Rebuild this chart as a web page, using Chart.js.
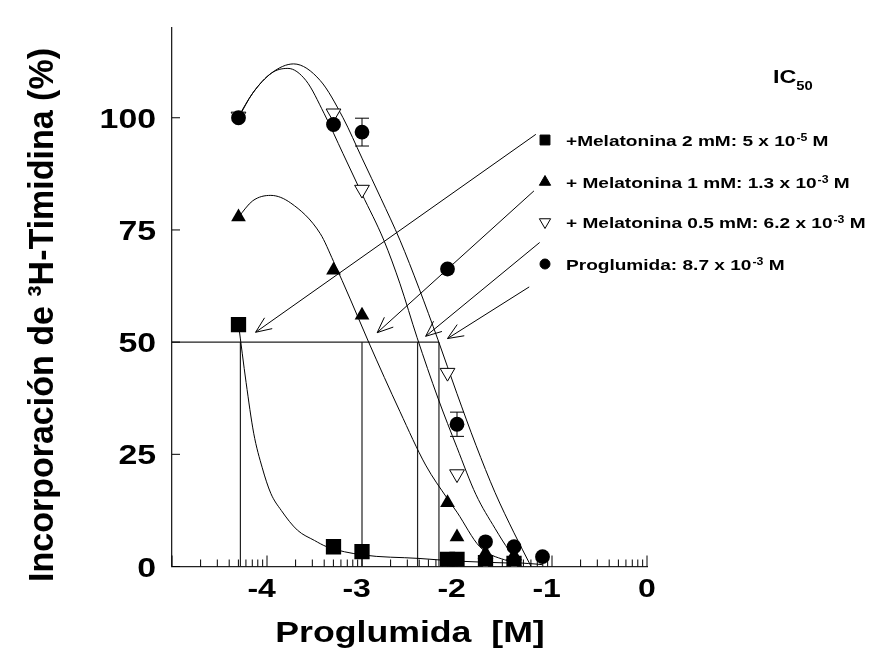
<!DOCTYPE html>
<html>
<head>
<meta charset="utf-8">
<script src="https://cdn.jsdelivr.net/npm/chart.js@4.4.0/dist/chart.umd.min.js"></script>
<style>
  html, body { margin: 0; padding: 0; background: #fff; }
  canvas { display: block; }
</style>
</head>
<body>
<canvas id="grafico" width="874" height="651"></canvas>
<script>
// dosis de proglumida (log M) y % de incorporacion
const logDosis = [-4.3, -3.3, -3.0, -2.1, -2.0, -1.7, -1.4, -1.1];
const proglumida = [100, 98.5, 96.8, 66.3, 31.7, 5.5, 4.4, 2.2];
const proglumidaErr = [0, 0, 3.1, 0, 2.7, 0, 0, 0];
const melatonina05 = [100.3, 101.0, 84.0, 43.2, 20.6, 0.8, 0.6, null];
const melatonina1 = [77.9, 66.0, 56.0, 14.2, 6.6, 3.0, 2.5, null];
const melatonina2 = [53.9, 4.4, 3.3, 1.6, 1.6, 0.85, 0.7, null];

// curvas ajustadas (puntos leidos sobre las lineas)
const ajusteProgX = [-4.3, -4.15, -3.95, -3.72, -3.44, -3.2, -3.0, -2.8, -2.6, -2.4, -2.2, -2.0, -1.8, -1.6, -1.4, -1.22];
const ajusteProgY = [100, 105.5, 110, 112, 108.3, 100, 91, 82, 72.7, 62, 50.5, 38.5, 27, 16.5, 7.5, 0];
const ajuste05X = [-4.3, -4.15, -3.95, -3.78, -3.59, -3.4, -3.2, -3.0, -2.77, -2.6, -2.42, -2.2, -2.0, -1.8, -1.6, -1.45, -1.32];
const ajuste05Y = [100.3, 105.5, 110, 111, 108.3, 101, 92, 83, 72.7, 63, 51, 37.5, 26.5, 16, 8.5, 3.5, 0];
const ajuste1X = [-4.3, -4.15, -3.96, -3.75, -3.44, -3.3, -3.12, -2.93, -2.6, -2.33, -2.1, -2.0, -1.76, -1.5, -1.1];
const ajuste1Y = [77.9, 81.5, 82.7, 81, 74.2, 68, 59.4, 50, 34.5, 22.6, 15.1, 12.1, 4.4, 1.5, 0.4];
const ajuste2X = [-4.3, -4.22, -4.14, -4.05, -3.96, -3.85, -3.68, -3.5, -3.37, -3.0, -2.4, -2.0, -1.34];
const ajuste2Y = [54, 41, 29.7, 22, 16.3, 12.5, 8.1, 5.8, 4.4, 2.6, 1.8, 1.2, 0.7];

// IC50: nivel 50 % y las cuatro verticales
const nivelIC50 = 50;
const ic50X = [-4.28, -3.0, -2.415, -2.19];

// flechas de la leyenda al punto IC50 (inicio y punta, en unidades de datos)
const flechaIniX = [-1.17, -1.19, -1.13, -1.24];
const flechaIniY = [96.3, 83.7, 72.2, 62.3];
const flechaFinX = [-4.12, -2.84, -2.33, -2.10];
const flechaFinY = [52.2, 52.1, 51.3, 50.8];

const ticksX = [-4, -3, -2, -1, 0];
const ticksY = [0, 25, 50, 75, 100];

const leyenda = [
  { estilo: 'rect', r: 7, rot: 0, relleno: '#000', txt: '+Melatonina 2 mM: 5 x 10', sup: '-5' },
  { estilo: 'triangle', r: 6.5, rot: 0, relleno: '#000', txt: '+ Melatonina 1 mM: 1.3 x 10', sup: '-3' },
  { estilo: 'triangle', r: 6.5, rot: 180, relleno: '#fff', txt: '+ Melatonina 0.5 mM: 6.2 x 10', sup: '-3' },
  { estilo: 'circle', r: 5, rot: 0, relleno: '#000', txt: 'Proglumida: 8.7 x 10', sup: '-3' }
];

const FUENTE = '"Liberation Sans", Arial, sans-serif';
const ESTIRA = 1.23; // la tipografia original esta ensanchada

function pares(xs, ys) {
  return xs.map((x, i) => ({ x: x, y: ys[i] }));
}

function texto(ctx, t, x, y, size, align) {
  ctx.save();
  ctx.font = 'bold ' + size + 'px ' + FUENTE;
  ctx.translate(x, y);
  ctx.scale(ESTIRA, 1);
  ctx.textAlign = align;
  ctx.textBaseline = 'alphabetic';
  ctx.fillText(t, 0, 0);
  const w = ctx.measureText(t).width * ESTIRA;
  ctx.restore();
  return w;
}

function ancho(ctx, t, size) {
  ctx.save();
  ctx.font = 'bold ' + size + 'px ' + FUENTE;
  const w = ctx.measureText(t).width * ESTIRA;
  ctx.restore();
  return w;
}

const anotaciones = {
  id: 'anotaciones',
  beforeDatasetsDraw(chart) {
    const ctx = chart.ctx;
    const sx = chart.scales.x, sy = chart.scales.y;
    ctx.save();
    ctx.strokeStyle = '#222';
    ctx.lineWidth = 1.2;
    // lineas IC50
    const y50 = sy.getPixelForValue(nivelIC50);
    ctx.beginPath();
    ctx.moveTo(sx.left, y50);
    ctx.lineTo(sx.getPixelForValue(Math.max(...ic50X)), y50);
    ic50X.forEach(v => {
      const px = sx.getPixelForValue(v);
      ctx.moveTo(px, y50);
      ctx.lineTo(px, sy.getPixelForValue(0));
    });
    ctx.stroke();

    // marcas hacia dentro
    ctx.lineWidth = 1;
    ctx.strokeStyle = '#000';
    const yb = sy.getPixelForValue(0);
    ctx.beginPath();
    for (let d = -5; d <= 0; d++) {
      const px = sx.getPixelForValue(d);
      ctx.moveTo(px, yb);
      ctx.lineTo(px, yb - 11);
      if (d < 0) {
        for (let k = 2; k <= 9; k++) {
          const pm = sx.getPixelForValue(d + Math.log10(k));
          ctx.moveTo(pm, yb);
          ctx.lineTo(pm, yb - 7);
        }
      }
    }
    ticksY.forEach(v => {
      const py = sy.getPixelForValue(v);
      ctx.moveTo(sx.left, py);
      ctx.lineTo(sx.left + 8, py);
    });
    ctx.stroke();
    ctx.restore();
  },
  afterDatasetsDraw(chart) {
    const ctx = chart.ctx;
    const sx = chart.scales.x, sy = chart.scales.y;
    ctx.save();
    ctx.strokeStyle = '#000';
    ctx.fillStyle = '#000';
    ctx.lineWidth = 1;

    // barras de error
    ctx.beginPath();
    proglumidaErr.forEach((e, i) => {
      if (!e) return;
      const px = sx.getPixelForValue(logDosis[i]);
      const hi = sy.getPixelForValue(proglumida[i] + e);
      const lo = sy.getPixelForValue(proglumida[i] - e);
      ctx.moveTo(px, hi); ctx.lineTo(px, lo);
      ctx.moveTo(px - 7, hi); ctx.lineTo(px + 7, hi);
      ctx.moveTo(px - 7, lo); ctx.lineTo(px + 7, lo);
    });
    ctx.stroke();

    // flechas
    ctx.beginPath();
    flechaIniX.forEach((x0, i) => {
      const ax = sx.getPixelForValue(x0), ay = sy.getPixelForValue(flechaIniY[i]);
      const bx = sx.getPixelForValue(flechaFinX[i]), by = sy.getPixelForValue(flechaFinY[i]);
      ctx.moveTo(ax, ay); ctx.lineTo(bx, by);
      const ang = Math.atan2(ay - by, ax - bx);
      [-0.4, 0.4].forEach(da => {
        ctx.moveTo(bx, by);
        ctx.lineTo(bx + 17 * Math.cos(ang + da), by + 17 * Math.sin(ang + da));
      });
    });
    ctx.stroke();

    // leyenda
    const filas = [140, 182, 222, 264];
    leyenda.forEach((l, i) => {
      ctx.fillStyle = l.relleno;
      ctx.strokeStyle = '#000';
      Chart.helpers.drawPoint(ctx, { pointStyle: l.estilo, radius: l.r, rotation: l.rot, borderWidth: 1 }, 545, filas[i]);
      ctx.fillStyle = '#000';
      let x = 566;
      x += texto(ctx, l.txt, x, filas[i] + 6, 15.5, 'left');
      texto(ctx, l.sup, x + 1, filas[i] + 1, 10, 'left');
      x += ancho(ctx, l.sup, 10) + 1;
      texto(ctx, ' M', x, filas[i] + 6, 15.5, 'left');
    });

    // IC50
    ctx.fillStyle = '#000';
    const wIC = texto(ctx, 'IC', 773, 83, 19, 'left');
    texto(ctx, '50', 773 + wIC, 90, 12, 'left');

    // etiquetas de los ejes
    ticksY.forEach(v => {
      texto(ctx, String(v), 156, sy.getPixelForValue(v) + 10, 27.5, 'right');
    });
    ticksX.forEach(v => {
      const t = String(v);
      const dig = t.replace('-', '');
      const px = sx.getPixelForValue(v);
      texto(ctx, t, px + ancho(ctx, dig, 26) / 2, 597, 26, 'right');
    });
    texto(ctx, 'Proglumida  [M]', 410, 642, 29, 'center');

    ctx.save();
    ctx.translate(53, 315);
    ctx.rotate(-Math.PI / 2);
    ctx.scale(1, 1.05);
    ctx.font = 'bold 34px ' + FUENTE;
    ctx.textAlign = 'center';
    ctx.fillText('Incorporación de ³H-Timidina (%)', 0, 0);
    ctx.restore();

    ctx.restore();
  }
};

const curva = (xs, ys) => ({
  data: pares(xs, ys),
  showLine: true,
  borderColor: '#000',
  borderWidth: 1,
  pointRadius: 0,
  cubicInterpolationMode: 'monotone',
  order: 10
});

const ctxGrafico = document.getElementById('grafico').getContext('2d');
const grafico = new Chart(ctxGrafico, {
  type: 'scatter',
  data: {
    datasets: [
      {
        label: 'Proglumida',
        data: pares(logDosis, proglumida),
        pointStyle: 'circle', pointRadius: 7.4,
        backgroundColor: '#000', borderColor: '#000', borderWidth: 0,
        order: 1
      },
      {
        label: '+ Melatonina 1 mM',
        data: pares(logDosis, melatonina1),
        pointStyle: 'triangle', pointRadius: 8.5,
        backgroundColor: '#000', borderColor: '#000', borderWidth: 0,
        order: 2
      },
      {
        label: '+Melatonina 2 mM',
        data: pares(logDosis, melatonina2),
        pointStyle: 'rect', pointRadius: 10.8,
        backgroundColor: '#000', borderColor: '#000', borderWidth: 0,
        order: 2
      },
      {
        label: '+ Melatonina 0.5 mM',
        data: pares(logDosis, melatonina05),
        pointStyle: 'triangle', rotation: 180, pointRadius: 8.5,
        backgroundColor: '#fff', borderColor: '#000', borderWidth: 1,
        order: 3
      },
      curva(ajusteProgX, ajusteProgY),
      curva(ajuste05X, ajuste05Y),
      curva(ajuste1X, ajuste1Y),
      curva(ajuste2X, ajuste2Y)
    ]
  },
  options: {
    responsive: false,
    animation: false,
    layout: { padding: { left: 0, right: 227, top: 28, bottom: 0 } },
    plugins: {
      legend: { display: false },
      tooltip: { enabled: false }
    },
    scales: {
      x: {
        type: 'linear',
        min: -5, max: 0,
        grid: { display: false },
        border: { display: true, color: '#222', width: 1.3 },
        ticks: { display: false },
        afterFit: s => { s.height = 84.5; }
      },
      y: {
        type: 'linear',
        min: 0, max: 120,
        grid: { display: false },
        border: { display: true, color: '#222', width: 1.3 },
        ticks: { display: false },
        afterFit: s => { s.width = 172; }
      }
    }
  },
  plugins: [anotaciones]
});
</script>
</body>
</html>
